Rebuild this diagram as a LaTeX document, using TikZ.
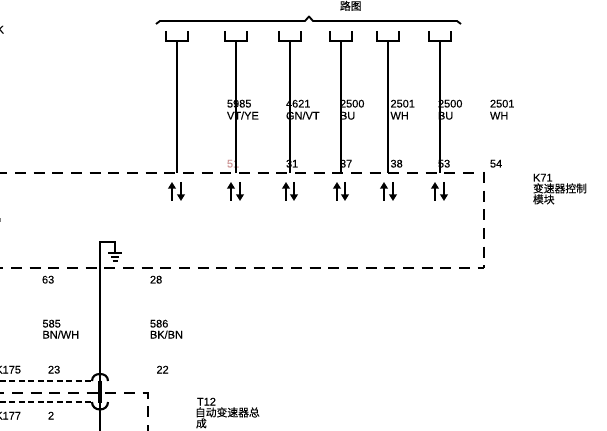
\documentclass[tikz,border=0pt]{standalone}
\usepackage{fontspec}
\setmainfont{Liberation Sans}[FakeBold=0.25]
\newfontfamily\cjk{Noto Sans CJK SC}[FakeBold=0.2]
\usetikzlibrary{arrows.meta}
\tikzset{
  x=0.75pt,y=-0.75pt,
  lab/.style={anchor=base west,inner sep=0pt,outer sep=0pt,font=\fontsize{8.25pt}{9pt}\selectfont},
  cjklab/.style={lab,font=\fontsize{8.1pt}{9pt}\selectfont\cjk},
  wire/.style={draw=black,line width=1.6pt},
  thinwire/.style={draw=black,line width=1.4pt},
  dashbase/.style={draw=black,line width=1.6pt,dash pattern=on 8.25pt off 5.75pt},
  dotbox/.style={draw=black,line width=1.4pt,dash pattern=on 4.5pt off 2.6pt},
  uparrow/.style={draw=black,line width=1.5pt,-{Triangle[length=5pt,width=5.8pt]}},
}
\begin{document}
\begin{tikzpicture}
\useasboundingbox (0,0) rectangle (607,431);
\clip (0,0) rectangle (607,431);
% labels
\node[cjklab] (lt) at (340,10) {路图};
\node[lab,anchor=base east] (kk) at (4,33.5) {K};
\node[lab] (w1a) at (227,107.5) {5985};
\node[lab] (w1b) at (227,119.5) {VT/YE};
\node[lab] (w2a) at (286,107.5) {4621};
\node[lab] (w2b) at (286,119.5) {GN/VT};
\node[lab] (w3a) at (340,107.5) {2500};
\node[lab] (w3b) at (340,119.5) {BU};
\node[lab] (w4a) at (390.5,107.5) {2501};
\node[lab] (w4b) at (390.5,119.5) {WH};
\node[lab] (w5a) at (438,107.5) {2500};
\node[lab] (w5b) at (438,119.5) {BU};
\node[lab] (w6a) at (490,107.5) {2501};
\node[lab] (w6b) at (490,119.5) {WH};
\node[lab,text={rgb,255:red,205;green,150;blue,150}] (p1) at (227,167.5) {51};
\node[lab] (p2) at (286,167.5) {31};
\node[lab] (p3) at (340,167.5) {37};
\node[lab] (p4) at (390.5,167.5) {38};
\node[lab] (p5) at (438,167.5) {53};
\node[lab] (p6) at (490,167.5) {54};
\node[lab] (k71) at (533,181.5) {K71};
\node[cjklab] (k71a) at (533,192.5) {变速器控制};
\node[cjklab] (k71b) at (533,203.5) {模块};
\node[lab] (p63) at (42,283.5) {63};
\node[lab] (p28) at (150,283.5) {28};
\node[lab] (a1) at (42.5,327.5) {585};
\node[lab] (a2) at (42.5,338.5) {BN/WH};
\node[lab] (b1) at (150,327.5) {586};
\node[lab] (b2) at (150,338.5) {BK/BN};
\node[lab,anchor=base east] (k175) at (21,373.5) {K175};
\node[lab] (p23) at (48,373.5) {23};
\node[lab] (p22) at (156.5,373.5) {22};
\node[lab,anchor=base east] (k177) at (21,419.5) {K177};
\node[lab] (p2b) at (48,419.5) {2};
\node[lab] (t12) at (197,405.5) {T12};
\node[cjklab] (t12a) at (195,416.5) {自动变速器总};
\node[cjklab] (t12b) at (196,427.5) {成};
% edge speck
\fill[gray] (0,218.5) rectangle (1,222);
% top brace
\draw[thinwire,line join=round] (156,24) -- (160,21) -- (305,21) -- (309,16.5) -- (313,21) -- (457,21) -- (461,24);
% sockets and stems
\foreach \n/\c in {a/177,b/236,c/290,d/341,e/388,f/440}{
  \coordinate (top\n) at (\c,41);
  \coordinate (bot\n) at (\c,173);
  \draw[thinwire] (\c-11,31) -- (\c-11,41) -- (\c+11,41) -- (\c+11,31);
  \draw[wire] (top\n) -- (bot\n);
}
% module outline
\coordinate (m1) at (0,173);
\coordinate (m2) at (474,173);
\coordinate (m3) at (484,172);
\coordinate (m4) at (484,268);
\coordinate (m5) at (0,268);
\draw[dashbase,dash phase=2.75pt] (m1) -- (m2);
\draw[dashbase] (m3) -- (m4);
\draw[dashbase,dash phase=5.75pt] (m5) -- (m4);
% direction arrows
\foreach \u/\d in {172/181,231/240,286/294,337/345,384/393,435/444}{
  \draw[uparrow] (\u,201) -- (\u,182);
  \draw[uparrow] (\d,182) -- (\d,201);
}
% ground wire
\coordinate (gw) at (100,431);
\coordinate (gc) at (100,242);
\coordinate (gr) at (115,242);
\coordinate (gs) at (115,253);
\draw[wire] (gw) -- (gc) -- (gr) -- (gs);
\draw[wire] (108,253) -- (122,253);
\draw[wire] (111,257) -- (119,257);
\draw[wire] (112.5,261) -- (117.5,261);
% lower connector
\coordinate (u0) at (0,381);
\coordinate (u1) at (91,381);
\coordinate (l0) at (0,402);
\coordinate (l1) at (91,402);
\draw[dotbox] (u0) -- (u1);
\draw[dotbox] (l0) -- (l1);
\coordinate (t0) at (0,393);
\coordinate (t1) at (148,393);
\coordinate (t2) at (148,431);
\draw[dashbase,dash phase=5pt] (t0) -- (t1) -- (t2);
\draw[wire] (92,381) .. controls (92,376) and (96,374) .. (100,374) .. controls (104,374) and (108,376) .. (108,381);
\draw[wire] (92,402) .. controls (92,407) and (96,409.5) .. (100,409.5) .. controls (104,409.5) and (108,407) .. (108,402);
\draw[draw=black,line width=3.2pt] (100,380.5) -- (100,402.5);
\end{tikzpicture}
\end{document}
